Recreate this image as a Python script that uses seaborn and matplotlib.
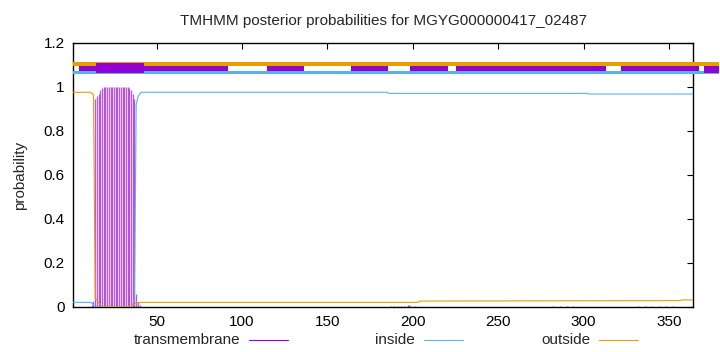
import matplotlib
matplotlib.use("Agg")
import matplotlib.pyplot as plt
from matplotlib.lines import Line2D
import seaborn as sns
import pandas as pd

# ---------------- data ----------------
title = "TMHMM posterior probabilities for MGYG000000417_02487"
seq_len = 364

inside_pos = [1, 11, 12, 13, 14, 35, 36, 37, 38, 39, 40, 41, 185, 186, 302, 303, 364]
inside_val = [0.021, 0.021, 0.018, 0.008, 0.0, 0.0, 0.01, 0.04, 0.92, 0.955, 0.968,
              0.976, 0.976, 0.971, 0.971, 0.968, 0.968]

outside_pos = [1, 11, 12, 13, 14, 15, 16, 17, 18, 19, 34, 35, 36, 37, 38, 39, 40,
               203, 204, 355, 358, 364]
outside_val = [0.976, 0.976, 0.972, 0.965, 0.04, 0.03, 0.02, 0.01, 0.004, 0.0, 0.0,
               0.003, 0.006, 0.012, 0.018, 0.02, 0.021, 0.021, 0.027, 0.029, 0.032, 0.032]

tm_pos = [12, 13, 14, 15, 16, 17, 18, 19, 20, 21, 22, 23, 24, 25, 26, 27, 28, 29,
          30, 31, 32, 33, 34, 35, 36, 37, 38, 39, 40,
          187, 189, 191, 193, 195, 197, 198, 199, 201,
          282, 286, 290, 294, 332, 336, 340, 344, 348, 352]
tm_val = [0.01, 0.027, 0.945, 0.96, 0.97, 0.985, 0.995, 1.0, 1.0, 1.0, 1.0, 1.0,
          1.0, 1.0, 1.0, 1.0, 1.0, 1.0, 1.0, 1.0, 1.0, 1.0, 0.995, 0.985, 0.97,
          0.945, 0.06, 0.025, 0.008,
          0.004, 0.005, 0.005, 0.006, 0.006, 0.008, 0.01, 0.006, 0.004,
          0.003, 0.004, 0.004, 0.003, 0.004, 0.004, 0.005, 0.005, 0.005, 0.004]

# top annotation bars (start, end) in sequence coordinates
outside_bar = [(1, 379)]
inside_bar = [(1, 379)]
tm_bar_thin = [(4.5, 91.7), (114.5, 136.3), (163.5, 185.3), (198.2, 220.4),
               (225.5, 313.0), (322.0, 367.3)]
tm_bar_thick_a = [(14.3, 42.5)]
tm_bar_thick_b = [(370.2, 379.0)]

legend_labels = ["transmembrane", "inside", "outside"]

# ---------------- style ----------------
sns.set_style("white")
plt.rcParams['font.family'] = ['Liberation Sans', 'DejaVu Sans']

C_TM = "#9400D3"
C_IN = "#56B4E9"
C_OUT = "#E69F00"
FS = 11

fig = plt.figure(figsize=(7.2, 3.52), dpi=100)
ax = fig.add_axes([73 / 720, 1 - 307 / 352, 620 / 720, 264 / 352])

# impulses for transmembrane
ax.vlines(tm_pos, 0, tm_val, color=C_TM, lw=0.95, alpha=0.65, zorder=2)

df_in = pd.DataFrame({"pos": inside_pos, "p": inside_val})
df_out = pd.DataFrame({"pos": outside_pos, "p": outside_val})
sns.lineplot(data=df_in, x="pos", y="p", ax=ax, color=C_IN, lw=0.8,
             estimator=None, zorder=3)
sns.lineplot(data=df_out, x="pos", y="p", ax=ax, color=C_OUT, lw=0.8,
             estimator=None, zorder=3)

def bars(segs, y0, y1, color, z):
    ax.broken_barh([(a, b - a) for a, b in segs], (y0, y1 - y0),
                   facecolor=color, edgecolor="none", clip_on=False, zorder=z)

bars(outside_bar, 1.097, 1.114, C_OUT, 4)
bars(inside_bar, 1.061, 1.075, C_IN, 4)
bars(tm_bar_thin, 1.075, 1.097, C_TM, 5)
bars(tm_bar_thick_a, 1.063, 1.111, C_TM, 6)
bars(tm_bar_thick_b, 1.063, 1.097, C_TM, 6)

ax.set_xlim(1, seq_len)
ax.set_ylim(0, 1.2)
ax.set_xticks([50, 100, 150, 200, 250, 300, 350])
ax.set_yticks([0, 0.2, 0.4, 0.6, 0.8, 1.0, 1.2])
ax.set_yticklabels(["0", "0.2", "0.4", "0.6", "0.8", "1", "1.2"])
ax.tick_params(direction="in", length=4, width=0.8, labelsize=FS, pad=6,
               top=True, right=True, colors="black")
for s in ax.spines.values():
    s.set_visible(True)
    s.set_color("black")
    s.set_linewidth(1.0)
ax.set_xlabel("")
ax.set_ylabel("probability", fontsize=FS, labelpad=12)
ax.set_title(title, fontsize=FS, pad=13)

# legend (gnuplot-style key below plot)
y_leg = 1 - 340 / 352
for i, (lab, col) in enumerate(zip(legend_labels, [C_TM, C_IN, C_OUT])):
    xr = 240 + 175 * i
    fig.text(xr / 720, y_leg, lab, ha="right", va="center", fontsize=FS)
    fig.add_artist(Line2D([(249 + 175 * i) / 720, (288 + 175 * i) / 720],
                          [y_leg, y_leg], color=col, lw=0.8,
                          transform=fig.transFigure))

fig.savefig("out.png", dpi=100)
